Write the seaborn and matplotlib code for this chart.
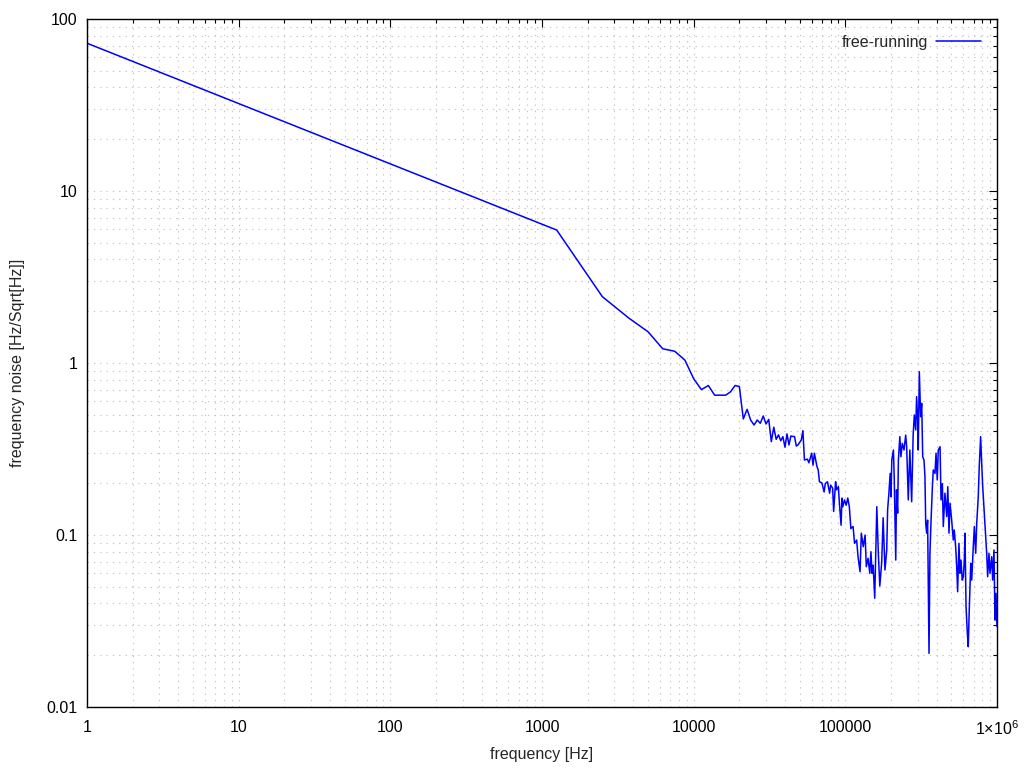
import numpy as np
import pandas as pd
import matplotlib
matplotlib.use('Agg')
from matplotlib import pyplot as plt
from matplotlib import ticker
import seaborn as sns

# frequency noise spectrum (Hz, Hz/sqrt(Hz))
freq_low = [1, 1250, 2500, 3750, 5000, 6250, 7500, 8750, 10000, 11250, 12500,
            13750, 15000, 16250, 17500, 18750, 20000]
noise_low = [72.3, 5.93, 2.43, 1.82, 1.52, 1.21, 1.17, 1.04, 0.81, 0.70, 0.74,
             0.65, 0.65, 0.65, 0.68, 0.74, 0.73]

freq_mid = [21250, 22500, 23750, 25000, 26250, 27500, 28750, 30000, 31250, 32500,
            33750, 35000, 36250, 37500, 38750, 40000, 41250, 42500, 43750, 46250,
            47500, 48750, 51250, 52500, 53750, 56250, 57500]
noise_mid = [0.473, 0.538, 0.466, 0.436, 0.466, 0.446, 0.492, 0.442, 0.470, 0.349,
             0.423, 0.360, 0.382, 0.353, 0.373, 0.324, 0.387, 0.334, 0.376, 0.373,
             0.329, 0.334, 0.357, 0.404, 0.273, 0.276, 0.263]

freq_hi1 = [60000, 61250, 62500, 65000, 66250, 67500, 70000, 72500, 73750, 76250,
            78750, 80000, 82500, 83750, 86250, 87500, 90000, 91250, 93750, 95000,
            96250, 98750, 101250, 103750, 106250, 108750, 112500, 115000, 118750, 121250,
            125000, 127500, 131250, 135000, 137500, 141250, 145000, 147500, 150000, 152500,
            156250, 161250, 165000, 168750, 173750, 177500]
noise_hi1 = [0.299, 0.255, 0.299, 0.250, 0.239, 0.204, 0.201, 0.178, 0.199, 0.204,
             0.175, 0.195, 0.187, 0.137, 0.204, 0.183, 0.191, 0.156, 0.114, 0.164,
             0.146, 0.160, 0.149, 0.164, 0.146, 0.109, 0.112, 0.0895, 0.0935, 0.0748,
             0.0612, 0.1025, 0.0855, 0.100, 0.0654, 0.0732, 0.0599, 0.080, 0.0599, 0.0669,
             0.0429, 0.146, 0.0786, 0.0505, 0.0697, 0.126]

freq_hi2 = [182500, 187500, 190000, 193750, 197500, 200000, 202500, 207500, 210000, 215000,
            217500, 221250, 223750, 228750, 232500, 237500, 243750, 250000, 253750, 257500,
            260000, 266250, 273750, 280000, 285000, 291250, 295000, 300000, 302500, 307500,
            313750, 318750, 323750, 330000, 335000, 338750, 343750, 348750, 356250, 361250,
            367500, 375000, 380000, 390000, 396250, 403750, 410000, 421250]
noise_hi2 = [0.0626, 0.0818, 0.140, 0.175, 0.228, 0.167, 0.273, 0.312, 0.218, 0.0715,
             0.183, 0.134, 0.273, 0.373, 0.285, 0.341, 0.312, 0.381, 0.326, 0.218,
             0.160, 0.312, 0.156, 0.381, 0.499, 0.408, 0.637, 0.466, 0.312, 0.890,
             0.487, 0.583, 0.285, 0.273, 0.218, 0.117, 0.1025, 0.122, 0.0205, 0.0783,
             0.122, 0.191, 0.239, 0.228, 0.299, 0.209, 0.312, 0.326]

freq_hi3 = [427500, 436250, 442500, 453750, 466250, 473750, 482500, 490000, 502500, 515000,
            522500, 533750, 542500, 550000, 561250, 570000, 578750, 590000, 600000, 608750,
            615000, 625000, 637500, 646250, 656250, 671250, 681250, 697500, 708750, 723750,
            735000, 752500, 763750, 780000, 792500, 805000, 820000, 833750, 855000, 867500,
            885000, 898750, 922500, 936250, 955000, 970000, 985000, 1000000]
noise_hi3 = [0.160, 0.199, 0.112, 0.175, 0.128, 0.191, 0.1025, 0.153, 0.122, 0.0935,
             0.107, 0.0855, 0.0654, 0.0468, 0.0895, 0.0599, 0.0715, 0.0547, 0.0572, 0.0715,
             0.1025, 0.0383, 0.0268, 0.0224, 0.0366, 0.0685, 0.0547, 0.0855, 0.112, 0.0783,
             0.117, 0.167, 0.250, 0.373, 0.261, 0.191, 0.146, 0.117, 0.0783, 0.0572,
             0.0783, 0.0599, 0.0748, 0.0547, 0.0818, 0.0320, 0.0458, 0.0293]

x_ticks = [1, 10, 100, 1000, 10000, 100000, 1000000]
x_labels = ['1', '10', '100', '1000', '10000', '100000', r'1$\times$10$^{6}$']
y_ticks = [0.01, 0.1, 1, 10, 100]
y_labels = ['0.01', '0.1', '1', '10', '100']

df = pd.DataFrame({
    'frequency': freq_low + freq_mid + freq_hi1 + freq_hi2 + freq_hi3,
    'noise': noise_low + noise_mid + noise_hi1 + noise_hi2 + noise_hi3,
})

sns.set_style('white')
plt.rcParams['font.family'] = ['Liberation Sans', 'DejaVu Sans']
plt.rcParams['mathtext.fontset'] = 'custom'
plt.rcParams['mathtext.rm'] = 'Liberation Sans'
plt.rcParams['mathtext.it'] = 'Liberation Sans'
plt.rcParams['mathtext.bf'] = 'Liberation Sans'

fig = plt.figure(figsize=(10.24, 7.68), dpi=100)
ax = fig.add_axes([87 / 1024, 61 / 768, 910 / 1024, 688 / 768])

sns.lineplot(data=df, x='frequency', y='noise', ax=ax, color='#0000ff', lw=1.1,
             sort=False, estimator=None, label='free-running')

ax.set_xscale('log')
ax.set_yscale('log')
ax.set_xlim(1, 1e6)
ax.set_ylim(0.01, 100)

ax.set_xticks(x_ticks, x_labels)
ax.set_yticks(y_ticks, y_labels)
ax.xaxis.set_minor_locator(ticker.LogLocator(base=10, subs=np.arange(2, 10), numticks=20))
ax.yaxis.set_minor_locator(ticker.LogLocator(base=10, subs=np.arange(2, 10), numticks=20))
ax.xaxis.set_minor_formatter(ticker.NullFormatter())
ax.yaxis.set_minor_formatter(ticker.NullFormatter())

ax.grid(which='both', color='#c4c4c4', linestyle=(0, (1.2, 4.5)), linewidth=0.8)
ax.set_axisbelow(True)

for s in ax.spines.values():
    s.set_visible(True)
    s.set_color('black')
    s.set_linewidth(1.0)

ax.tick_params(which='both', direction='in', top=True, right=True, colors='black',
               labelsize=11.5, width=0.8)
ax.tick_params(which='major', length=6)
ax.tick_params(which='minor', length=3)
ax.tick_params(axis='x', pad=9)
ax.tick_params(axis='y', pad=7)

ax.set_xlabel('frequency [Hz]', fontsize=11.5)
ax.set_ylabel('frequency noise [Hz/Sqrt[Hz]]', fontsize=11.5)
ax.xaxis.set_label_coords(0.5, -0.058)
ax.yaxis.set_label_coords(-0.068, 0.5)

ax.legend(loc='upper right', frameon=False, markerfirst=False, fontsize=11.5,
          handlelength=2.8, handletextpad=0.5, borderaxespad=0.6)

fig.savefig('out.png', dpi=100)
